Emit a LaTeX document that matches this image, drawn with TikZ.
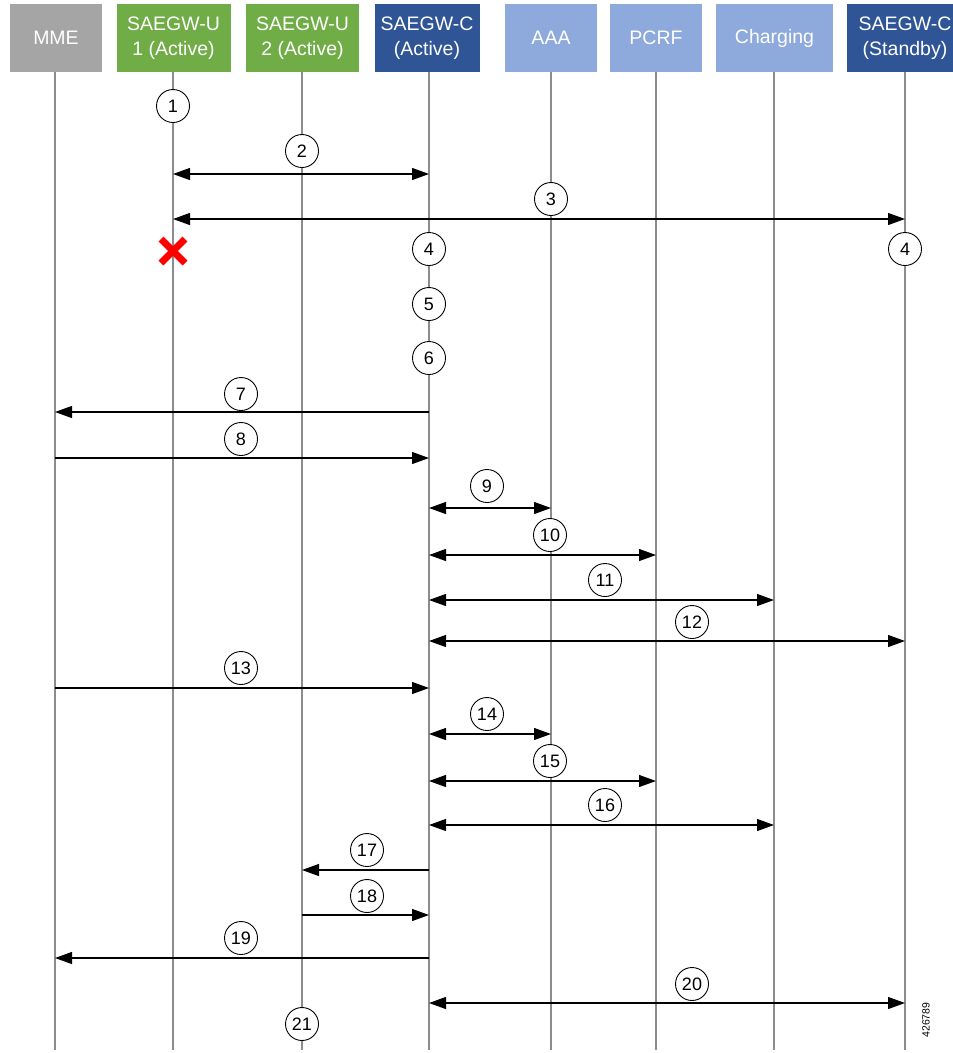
\documentclass[tikz,border=0pt]{standalone}
\usepackage{fontspec}
\setmainfont{Liberation Sans}
\usetikzlibrary{arrows.meta}
\definecolor{mmegray}{HTML}{A5A5A5}
\definecolor{ugreen}{HTML}{70AD47}
\definecolor{cblue}{HTML}{2F5597}
\definecolor{lblue}{HTML}{8EA9DB}
\definecolor{lifegray}{HTML}{8C8C8C}
\tikzset{
  hdr/.style={fill=#1, text=white, minimum height=68pt, inner sep=0pt, align=center,
    font=\fontsize{19.5}{25.5}\selectfont},
  life/.style={draw=lifegray, line width=1.5pt},
  msg/.style={draw=black, line width=1.2pt, -{Triangle[length=17pt,width=12pt]}},
  bmsg/.style={draw=black, line width=1.2pt, {Triangle[length=17pt,width=12pt]}-{Triangle[length=17pt,width=12pt]}},
  num/.style={circle, draw=black, line width=0.9pt, fill=white, minimum size=33pt, inner sep=0pt,
    font=\fontsize{18}{18}\selectfont},
  fail/.style={draw=red, line width=7pt}
}
\begin{document}
\begin{tikzpicture}[x=1pt,y=-1pt]
\useasboundingbox (0,0) rectangle (953,1053);
% headers
\node[hdr=mmegray, minimum width=92pt] (MME) at (56,38) {MME};
\node[hdr=ugreen, minimum width=114pt] (U1) at (173.5,38) {SAEGW-U\\1 (Active)};
\node[hdr=ugreen, minimum width=113pt] (U2) at (302.5,38) {SAEGW-U\\2 (Active)};
\node[hdr=cblue, minimum width=105pt] (CA) at (427,38) {SAEGW-C\\(Active)};
\node[hdr=lblue, minimum width=92pt] (AAA) at (551,38) {AAA};
\node[hdr=lblue, minimum width=92pt] (PCRF) at (656,38) {PCRF};
\node[hdr=lblue, minimum width=117pt] (CHG) at (774.5,38) {Charging};
\node[hdr=cblue, minimum width=116pt] (CS) at (905,38) {SAEGW-C\\(Standby)};
% lifeline ends
\coordinate (lMME) at (55,1050);
\coordinate (lU1) at (173,1050);
\coordinate (lU2) at (302,1050);
\coordinate (lCA) at (429,1050);
\coordinate (lAAA) at (551,1050);
\coordinate (lPCRF) at (656,1050);
\coordinate (lCHG) at (774,1050);
\coordinate (lCS) at (905,1050);
\draw[life] (lMME |- MME.south) -- (lMME);
\draw[life] (lU1 |- U1.south) -- (lU1);
\draw[life] (lU2 |- U2.south) -- (lU2);
\draw[life] (lCA |- CA.south) -- (lCA);
\draw[life] (lAAA |- AAA.south) -- (lAAA);
\draw[life] (lPCRF |- PCRF.south) -- (lPCRF);
\draw[life] (lCHG |- CHG.south) -- (lCHG);
\draw[life] (lCS |- CS.south) -- (lCS);
% messages
\draw[bmsg] (lU1 |- 0,174) -- (lCA |- 0,174);
\draw[bmsg] (lU1 |- 0,219) -- (lCS |- 0,219);
\draw[msg] (lCA |- 0,412) -- (lMME |- 0,412);
\draw[msg] (lMME |- 0,458) -- (lCA |- 0,458);
\draw[bmsg] (lCA |- 0,508) -- (lAAA |- 0,508);
\draw[bmsg] (lCA |- 0,555) -- (lPCRF |- 0,555);
\draw[bmsg] (lCA |- 0,600) -- (lCHG |- 0,600);
\draw[bmsg] (lCA |- 0,641) -- (lCS |- 0,641);
\draw[msg] (lMME |- 0,688) -- (lCA |- 0,688);
\draw[bmsg] (lCA |- 0,734) -- (lAAA |- 0,734);
\draw[bmsg] (lCA |- 0,781) -- (lPCRF |- 0,781);
\draw[bmsg] (lCA |- 0,825) -- (lCHG |- 0,825);
\draw[msg] (lCA |- 0,870) -- (lU2 |- 0,870);
\draw[msg] (lU2 |- 0,915) -- (lCA |- 0,915);
\draw[msg] (lCA |- 0,958) -- (lMME |- 0,958);
\draw[bmsg] (lCA |- 0,1003) -- (lCS |- 0,1003);
% failure mark
\coordinate (X) at (173,251);
\draw[fail] ([shift={(-12,-12)}]X) -- ([shift={(12,12)}]X);
\draw[fail] ([shift={(-12,12)}]X) -- ([shift={(12,-12)}]X);
% step numbers
\node[num] (n1) at (173,106) {1};
\node[num] (n2) at (302,151) {2};
\node[num] (n3) at (551,199) {3};
\node[num] (n4a) at (429,249) {4};
\node[num] (n4b) at (905,249) {4};
\node[num] (n5) at (429,304) {5};
\node[num] (n6) at (429,358) {6};
\node[num] (n7) at (241,394) {7};
\node[num] (n8) at (241,439) {8};
\node[num] (n9) at (487,486) {9};
\node[num] (n10) at (550,535) {10};
\node[num] (n11) at (605,580) {11};
\node[num] (n12) at (692,622) {12};
\node[num] (n13) at (241,668) {13};
\node[num] (n14) at (487,714) {14};
\node[num] (n15) at (550,761) {15};
\node[num] (n16) at (605,805) {16};
\node[num] (n17) at (367,850) {17};
\node[num] (n18) at (367,896) {18};
\node[num] (n19) at (241,938) {19};
\node[num] (n20) at (692,984) {20};
\node[num] (n21) at (302,1024) {21};
% figure id
\node[rotate=90, font=\fontsize{10.5}{10.5}\selectfont, inner sep=0pt] (fid) at (926,1020) {426789};
\end{tikzpicture}
\end{document}
